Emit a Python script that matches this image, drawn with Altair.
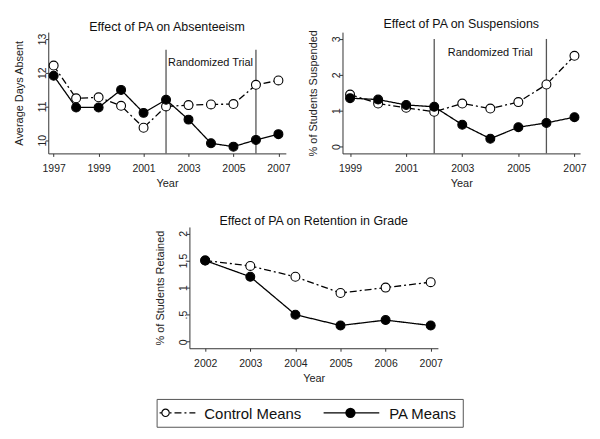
import altair as alt
import pandas as pd

FONT = "Liberation Sans"

# ---- data ----
series_names = ["Control Means", "PA Means"]

abs_years = [1997, 1998, 1999, 2000, 2001, 2002, 2003, 2004, 2005, 2006, 2007]
abs_control = [12.21, 11.24, 11.27, 11.02, 10.37, 11.0, 11.04, 11.06, 11.07, 11.64, 11.77]
abs_pa = [11.91, 10.97, 10.97, 11.49, 10.81, 11.2, 10.61, 9.91, 9.81, 10.01, 10.18]

sus_years = [1999, 2000, 2001, 2002, 2003, 2004, 2005, 2006, 2007]
sus_control = [1.45, 1.2, 1.08, 0.97, 1.2, 1.06, 1.24, 1.73, 2.53]
sus_pa = [1.35, 1.31, 1.16, 1.11, 0.61, 0.22, 0.54, 0.66, 0.82]

ret_years = [2002, 2003, 2004, 2005, 2006, 2007]
ret_control = [1.5, 1.4, 1.2, 0.9, 1.0, 1.1]
ret_pa = [1.5, 1.2, 0.5, 0.3, 0.4, 0.3]

trial_years = [2002, 2006]
trial_label = "Randomized Trial"


def long_df(years, ctrl, pa):
    rows = []
    for y, v in zip(years, ctrl):
        rows.append({"Year": y, "Value": v, "Series": series_names[0]})
    for y, v in zip(years, pa):
        rows.append({"Year": y, "Value": v, "Series": series_names[1]})
    return pd.DataFrame(rows)


dash_scale = alt.Scale(domain=series_names, range=[[7, 3, 2, 3], [1, 0]])
fill_scale = alt.Scale(domain=series_names, range=["white", "black"])

axis_common = dict(
    labelFont=FONT, titleFont=FONT, labelFontSize=10.5, titleFontSize=11,
    titleFontWeight="normal", labelColor="#222", titleColor="#222",
    domainColor="#333", tickColor="#333", tickSize=3, grid=False,
)


def panel(df, title, ytitle, xdom, ydom, xticks, yticks, w, h, ylabel_expr=None, trial=None, trial_text=None):
    x = alt.X("Year:Q", scale=alt.Scale(domain=xdom, nice=False, zero=False),
              axis=alt.Axis(values=xticks, format="d", title="Year", labelPadding=7, titlePadding=4, **axis_common))
    yaxis_kwargs = dict(values=yticks, title=ytitle, labelAngle=270, labelAlign="center",
                        labelBaseline="alphabetic", labelPadding=0, titlePadding=13, **axis_common)
    if ylabel_expr:
        yaxis_kwargs["labelExpr"] = ylabel_expr
    y = alt.Y("Value:Q", scale=alt.Scale(domain=ydom, nice=False, zero=False), axis=alt.Axis(**yaxis_kwargs))
    base = alt.Chart(df)
    lines = base.mark_line(color="black", strokeWidth=1.3).encode(
        x=x, y=y,
        strokeDash=alt.StrokeDash("Series:N", scale=dash_scale, legend=None),
        detail="Series:N",
    )
    pts = base.mark_point(shape="circle", size=80, stroke="black", strokeWidth=1.1, opacity=1, filled=False).encode(
        x=x, y=y,
        fill=alt.Fill("Series:N", scale=fill_scale, legend=None),
    )
    layers = [lines, pts]
    if trial is not None:
        tdf = pd.DataFrame({"Year": trial_years, "Top": [trial] * len(trial_years)})
        rules = alt.Chart(tdf).mark_rule(color="#555", strokeWidth=1.3).encode(
            x=alt.X("Year:Q"), y=alt.Y("Top:Q"), y2=alt.value(h)
        )
        txt = alt.Chart(pd.DataFrame({"Year": [trial_text[0]], "Top": [trial_text[1]], "t": [trial_label]})).mark_text(
            font=FONT, fontSize=11, align=trial_text[2], baseline="middle", dx=trial_text[3], color="#111"
        ).encode(x=alt.X("Year:Q"), y=alt.Y("Top:Q"), text="t:N")
        layers = [rules, txt] + layers
    return alt.layer(*layers).properties(
        width=w, height=h,
        title=alt.TitleParams(title, font=FONT, fontSize=12.5, fontWeight="normal", anchor="middle", offset=-1, color="#111"),
    )


A = panel(long_df(abs_years, abs_control, abs_pa), "Effect of PA on Absenteeism", "Average Days Absent",
          [1996.76, 2007.33], [9.61, 13.2], [1997, 1999, 2001, 2003, 2005, 2007], [10, 11, 12, 13], 239, 122,
          trial=12.68, trial_text=(2002, 12.29, "left", 2))
B = panel(long_df(sus_years, sus_control, sus_pa), "Effect of PA on Suspensions", "% of Students Suspended",
          [1998.73, 2007.2], [-0.19, 3.19], [1999, 2001, 2003, 2005, 2007], [0, 1, 2, 3], 239, 122,
          trial=3.0, trial_text=(2004, 2.61, "center", 0))
C = panel(long_df(ret_years, ret_control, ret_pa), "Effect of PA on Retention in Grade", "% of Students Retained",
          [2001.65, 2007.16], [-0.12, 2.12], ret_years, [0, 0.5, 1, 1.5, 2], 250, 122,
          ylabel_expr="datum.value == 0.5 ? '.5' : format(datum.value, '~g')")


def spacer(w):
    return alt.Chart(pd.DataFrame({"a": [0]})).mark_point(opacity=0).encode(
        x=alt.value(0), y=alt.value(0)).properties(width=w, height=1)


# ---- legend box ----
LW, LH = 308, 28
leg_df = pd.DataFrame({"Series": series_names})
ctrl = leg_df[leg_df.Series == series_names[0]]
pa = leg_df[leg_df.Series == series_names[1]]
legend = alt.layer(
    alt.Chart(ctrl).mark_rule(color="black", strokeWidth=1.3, strokeDash=[7, 3, 2, 3]).encode(
        x=alt.value(3), x2=alt.value(39), y=alt.value(LH / 2)),
    alt.Chart(ctrl).mark_point(shape="circle", size=55, stroke="black", fill="white", filled=False, opacity=1, strokeWidth=1.1).encode(
        x=alt.value(9), y=alt.value(LH / 2)),
    alt.Chart(ctrl).mark_text(font=FONT, fontSize=15, align="left", baseline="middle", color="#111").encode(
        x=alt.value(48), y=alt.value(LH / 2 + 1), text="Series:N"),
    alt.Chart(pa).mark_rule(color="black", strokeWidth=1.3).encode(
        x=alt.value(168), x2=alt.value(224), y=alt.value(LH / 2)),
    alt.Chart(pa).mark_point(shape="circle", size=70, stroke="black", fill="black", filled=True, opacity=1).encode(
        x=alt.value(195), y=alt.value(LH / 2)),
    alt.Chart(pa).mark_text(font=FONT, fontSize=15, align="left", baseline="middle", color="#111").encode(
        x=alt.value(234), y=alt.value(LH / 2 + 1), text="Series:N"),
).properties(width=LW, height=LH, view=alt.ViewBackground(stroke="#555", strokeWidth=1))

top = alt.hconcat(A, B, spacing=16)
row2 = alt.hconcat(spacer(107), C, spacing=0)
row3 = alt.hconcat(spacer(108), legend, spacing=0)
upper = alt.vconcat(top, row2, spacing=26)
chart = alt.vconcat(upper, row3, spacing=12).configure_view(
    stroke=None
).properties(
    padding={"left": 5.5, "top": 8, "right": 5, "bottom": 5}, background="white"
)

chart.save("out.html", embed_options={"renderer": "svg", "actions": False})
